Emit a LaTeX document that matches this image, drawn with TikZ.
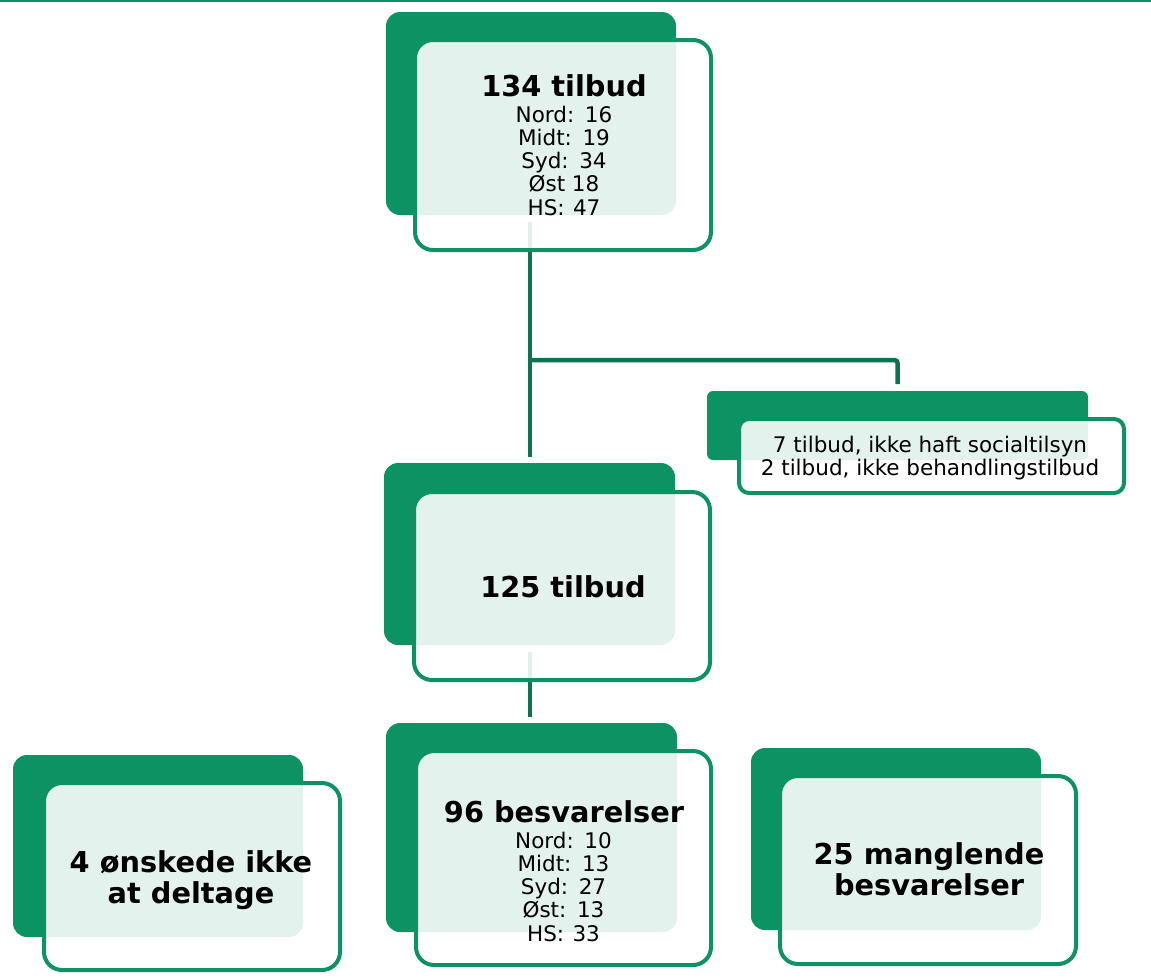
\documentclass[tikz,border=0pt]{standalone}
\usepackage{fontspec}
\setmainfont{DejaVu Sans}
\usetikzlibrary{backgrounds,calc}
\definecolor{gback}{RGB}{12,146,99}
\definecolor{gline}{RGB}{11,115,80}
\newcommand{\gapsp}{\hspace{1.5pt}}
\begin{document}
\begin{tikzpicture}[x=1pt,y=-1pt,
  backbox/.style={fill=gback, rounded corners=14pt, inner sep=0pt, outer sep=0pt},
  frontbox/.style={draw=gback, line width=4pt, fill=white, fill opacity=0.885, rounded corners=18pt, inner sep=0pt},
  titletext/.style={font=\fontsize{28.8}{31.5}\selectfont\bfseries, align=center, text=black, inner sep=0pt},
  detailtext/.style={font=\fontsize{21.5}{23.2}\selectfont, align=center, text=black, inner sep=0pt},
  conn/.style={draw=gline, line width=4.5pt}]
\useasboundingbox (0,0) rectangle (1151,978);
% top rule
\coordinate (rl) at (0,1);
\coordinate (rr) at (1151,1);
\draw[gback, line width=2pt] (rl) -- (rr);

% back boxes
\node[backbox, minimum width=290, minimum height=203] (b1) at (531,113.5) {};
\node[backbox, minimum width=291, minimum height=182] (b2) at (529.5,554) {};
\node[backbox, rounded corners=6pt, minimum width=381, minimum height=69] (b3) at (897.5,425.5) {};
\node[backbox, minimum width=290, minimum height=182] (b4) at (158,846) {};
\node[backbox, minimum width=291, minimum height=209] (b5) at (531.5,827.5) {};
\node[backbox, minimum width=290, minimum height=182] (b6) at (896,839) {};

% connectors (behind front boxes)
\coordinate (s1) at (530,222);
\coordinate (j1) at (530,360);
\coordinate (s2) at (530,652);
\begin{scope}[on background layer]
\draw[conn] (s1) -- ($(s1 |- b2.north)+(0,-6)$);
\draw[conn, rounded corners=3pt] (j1) -- (j1 -| b3.north) -- ($(b3.north)+(0,-7)$);
\draw[conn] (s2) -- ($(s2 |- b5.north)+(0,-6)$);
\end{scope}

% front boxes
\node[frontbox, minimum width=296, minimum height=210] (f1) at (563,145) {};
\node[frontbox, minimum width=296, minimum height=188] (f2) at (562,586) {};
\node[frontbox, rounded corners=10pt, minimum width=385, minimum height=74] (f3) at (931.5,456) {};
\node[frontbox, minimum width=296, minimum height=187] (f4) at (192,876.5) {};
\node[frontbox, minimum width=295, minimum height=214] (f5) at (563.5,858) {};
\node[frontbox, minimum width=296, minimum height=188] (f6) at (928,870) {};

% texts
\node[titletext, anchor=base] (t1) at (564,96) {134 tilbud};
\node[detailtext, anchor=north] (d1) at (564,105.7) {Nord:\gapsp{} 16\\Midt:\gapsp{} 19\\Syd:\gapsp{} 34\\Øst 18\\HS:\gapsp{} 47};
\node[titletext, anchor=base] (t2) at (563,597) {125 tilbud};
\node[detailtext, anchor=north] (d3) at (930,435.7) {7 tilbud, ikke haft socialtilsyn\\2 tilbud, ikke behandlingstilbud};
\node[titletext, anchor=north] (t4) at (191,850) {4 ønskede ikke\\at deltage};
\node[titletext, anchor=base] (t5) at (564,822) {96 besvarelser};
\node[detailtext, anchor=north] (d5) at (563.5,831.7) {Nord:\gapsp{} 10\\Midt:\gapsp{} 13\\Syd:\gapsp{} 27\\Øst:\gapsp{} 13\\HS:\gapsp{} 33};
\node[titletext, anchor=north] (t6) at (929,842) {25 manglende\\besvarelser};
\end{tikzpicture}
\end{document}
